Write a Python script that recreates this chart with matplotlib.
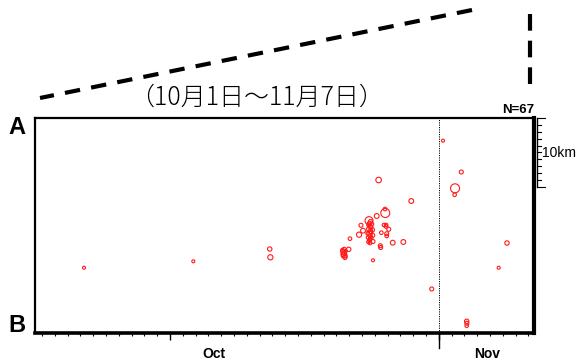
import numpy as np
import matplotlib
matplotlib.use("Agg")
from matplotlib import pyplot as plt
from matplotlib import transforms
from matplotlib.lines import Line2D

#%% data: days since Oct 1, distance along A-B (km), magnitude
day = [3.28, 11.82, 17.79, 17.84,
       23.60, 23.55, 23.63, 23.58, 23.67, 23.96, 24.06, 24.77, 24.92, 25.08,
       25.55, 26.15, 26.30, 26.82, 26.80, 28.85, 26.72, 26.88, 27.09, 26.51,
       26.93, 26.93, 27.40, 28.23, 26.43, 26.46, 25.86,
       25.59, 25.63, 25.55, 25.66, 25.59, 25.63, 25.70, 25.59, 25.63, 25.82,
       25.84, 25.44, 25.47, 25.72,
       31.33, 32.76, 32.27, 32.24, 35.68, 30.45, 33.18, 33.20, 33.18, 36.33,
       25.66, 25.51, 25.70, 25.63, 25.86, 25.51, 23.48, 23.71, 23.52, 23.71,
       26.88, 25.78]
dist = [21.70, 20.77, 18.99, 20.19,
        19.06, 19.42, 19.64, 19.93, 20.22, 19.03, 17.49, 16.91, 15.55, 16.33,
        14.88, 14.20, 8.99, 13.77, 13.19, 12.03, 15.51, 15.51, 16.13, 16.62,
        16.77, 17.10, 18.07, 17.97, 18.51, 18.77, 20.62,
        15.29, 15.72, 16.09, 16.38, 16.74, 17.10, 17.39, 17.75, 18.12, 16.23,
        17.00, 16.71, 17.32, 15.80,
        3.29, 7.83, 10.19, 11.12, 21.70, 24.78, 29.46, 29.75, 30.10, 18.12,
        15.00, 15.51, 16.59, 17.54, 17.90, 17.97, 19.20, 19.28, 19.78, 20.00,
        15.72, 15.36]
mag = [0.5, 0.5, 1.2, 1.6,
       1.2, 1.6, 1.2, 1.6, 1.0, 1.2, 0.8, 1.6, 1.0, 1.4,
       3.0, 1.4, 1.8, 3.5, 0.8, 1.4, 0.8, 0.8, 1.0, 0.8,
       1.0, 0.8, 1.4, 1.4, 1.0, 1.0, 0.5,
       1.2, 1.2, 1.4, 1.2, 1.6, 1.2, 1.0, 1.0, 0.8, 1.0,
       1.0, 0.8, 0.8, 0.8,
       0.5, 1.0, 3.5, 0.8, 0.5, 1.0, 1.2, 1.0, 0.8, 1.2,
       1.0, 0.8, 0.8, 0.8, 1.0, 0.8, 1.0, 0.8, 1.0, 0.8,
       0.8, 0.8]

month_ticks = [10, 31]
month_names = ["Oct", "Nov"]
month_label_pos = [13.44, 34.8]
title = "（10月1日〜11月7日）"

W, H = 584, 362
def fx(px): return px / W
def fy(py): return 1 - py / H

#%% plot
fig = plt.figure(figsize=(5.84, 3.62), dpi=100)
ax = fig.add_axes([fx(35), fy(333), (534 - 35) / W, (333 - 118) / H])

r = 1.0 + np.array(mag)  # radius in px
ax.scatter(day, dist, s=(1.44 * r) ** 2, facecolors='none',
           edgecolors='#ff1a1a', linewidths=0.8, zorder=5)

ax.set_xlim(-0.55, 38.44)
ax.set_ylim(31.16, 0)

ax.spines['left'].set_linewidth(1.6)
ax.spines['top'].set_linewidth(1.6)
ax.spines['right'].set_linewidth(3.0)
ax.spines['bottom'].set_linewidth(2.6)

ax.set_yticks([])
ax.set_xticks(month_ticks)
ax.set_xticklabels([])
ax.xaxis.set_minor_locator(matplotlib.ticker.MultipleLocator(1))
ax.tick_params(axis='x', which='major', length=5, width=1.0, direction='out')
ax.tick_params(axis='x', which='minor', length=2.5, width=0.8, direction='out')

trans = transforms.blended_transform_factory(ax.transData, ax.transAxes)
# dotted line at the start of Nov, carried below the axis
ax.axvline(31, color='black', linestyle=(0, (1.2, 1.2)), lw=0.7)
ax.plot([31, 31], [0, -0.07], transform=trans, color='black', lw=1.0, clip_on=False)
for xpos, name in zip(month_label_pos, month_names):
    ax.text(xpos, -0.098, name, transform=trans, ha='center', va='center',
            fontsize=10, fontweight='bold', family='Liberation Sans')

# 10 km scale bar on the right
ytrans = transforms.blended_transform_factory(ax.transAxes, ax.transData)
ax.plot([1.007, 1.007], [0, 10], transform=ytrans, color='black', lw=1.0, clip_on=False)
for k in range(11):
    x1 = 1.022 if k in (0, 10) else 1.014
    ax.plot([1.007, x1], [k, k], transform=ytrans, color='black', lw=0.8, clip_on=False)
ax.text(1.017, 5.07, "10km", transform=ytrans, ha='left', va='center',
        fontsize=10, family='Liberation Sans')

ax.text(1.0, 1.01, "N=%d" % len(day), transform=ax.transAxes, ha='right', va='bottom',
        fontsize=9.5, fontweight='bold', family='Liberation Sans')

# labels A / B
fig.text(fx(17), fy(127), "A", ha='center', va='center', fontsize=17,
         fontweight='bold', family='Liberation Sans')
fig.text(fx(17), fy(325), "B", ha='center', va='center', fontsize=17,
         fontweight='bold', family='Liberation Sans')

# title
fig.text(fx(257), fy(97), title, ha='center', va='center', fontsize=18,
         family=['Noto Sans CJK JP', 'DejaVu Sans'], fontweight='light')

# dashed guide lines from the map section
fig.add_artist(Line2D([fx(472), fx(40)], [fy(10), fy(98)], color='black', lw=3,
                      linestyle=(0, (3.7, 2.7)), transform=fig.transFigure))
fig.add_artist(Line2D([fx(530), fx(530)], [fy(14), fy(88)], color='black', lw=3,
                      linestyle=(0, (4.0, 2.4)), transform=fig.transFigure))

plt.savefig("out.png", dpi=100)
